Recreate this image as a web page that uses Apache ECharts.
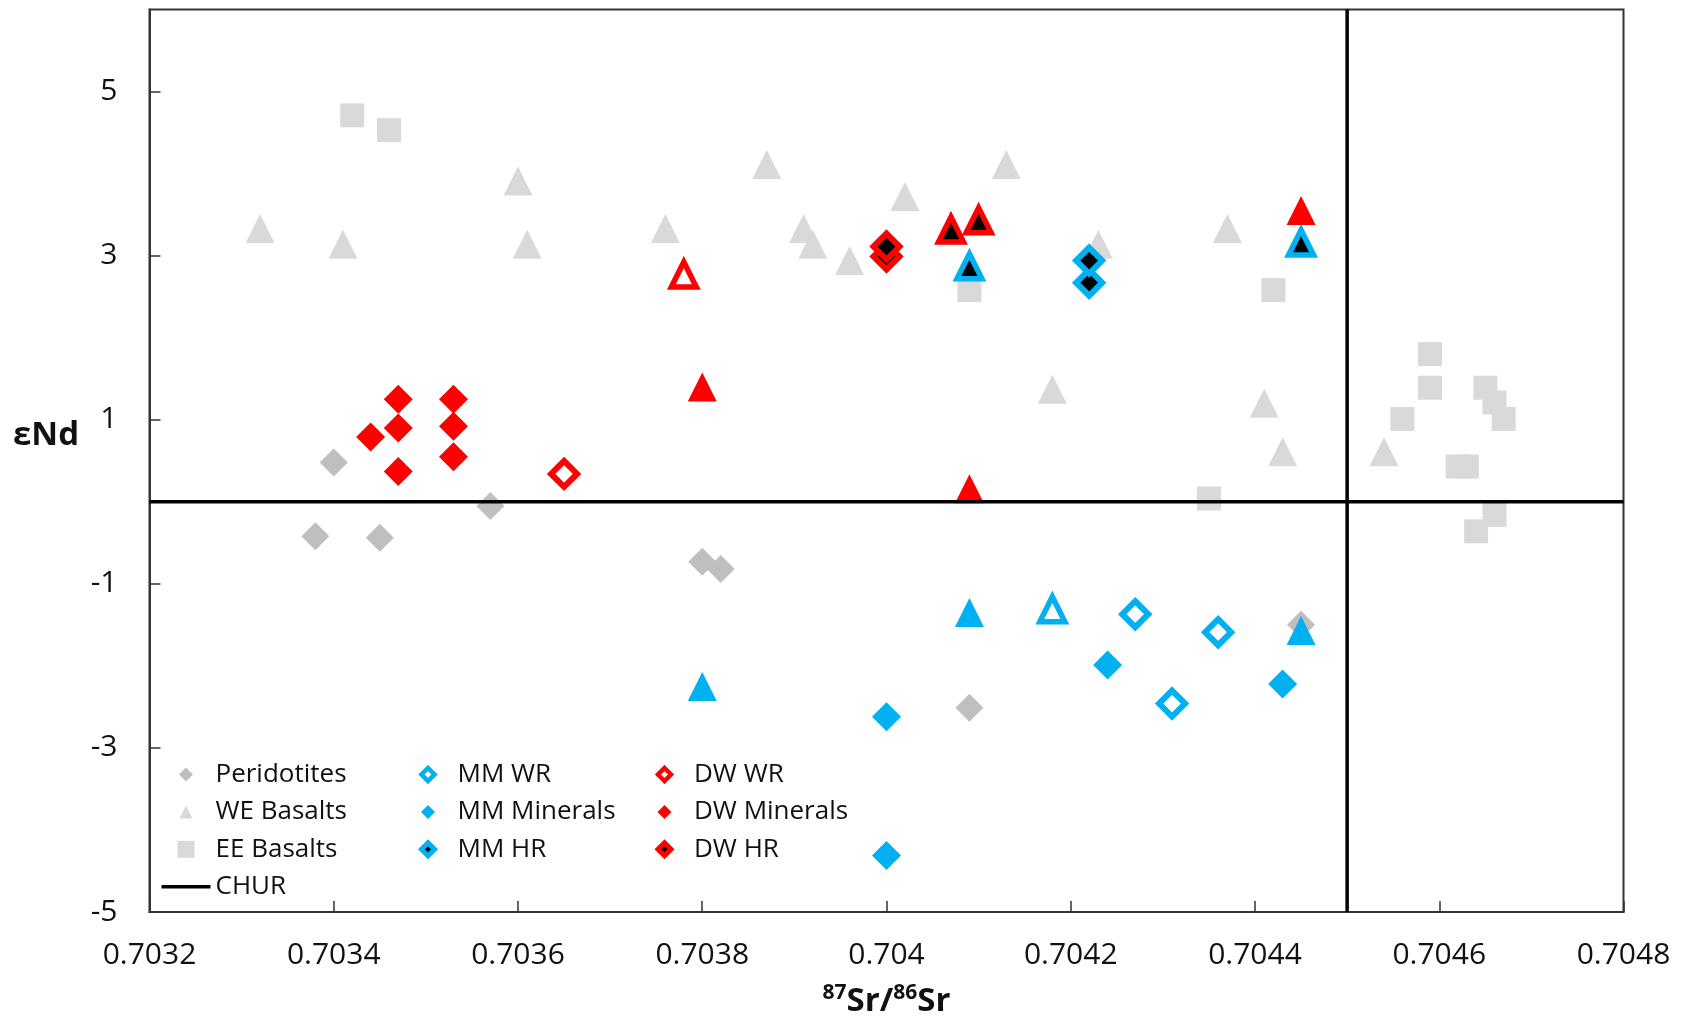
<!DOCTYPE html>
<html>
<head>
<meta charset="utf-8">
<title>εNd vs 87Sr/86Sr</title>
<script src="https://cdn.jsdelivr.net/npm/echarts@6/dist/echarts.min.js"></script>
<style>
  html, body { margin: 0; padding: 0; background: #ffffff; }
  #chart { width: 1686px; height: 1019px; }
</style>
</head>
<body>
<div id="chart"></div>
<script>
// ---- data: [87Sr/86Sr, εNd] ----
const peridotites = [
  [0.70340, 0.48], [0.70357, -0.05], [0.70338, -0.42], [0.70345, -0.44],
  [0.70380, -0.73], [0.70382, -0.82], [0.70409, -2.51], [0.70445, -1.50]
];
const weBasalts = [
  [0.70332, 3.33], [0.70341, 3.14], [0.70360, 3.91], [0.70361, 3.14],
  [0.70376, 3.33], [0.70387, 4.11], [0.70391, 3.33], [0.70392, 3.14],
  [0.70396, 2.94], [0.70402, 3.72], [0.70413, 4.11], [0.70423, 3.14],
  [0.70437, 3.33], [0.70418, 1.37], [0.70441, 1.20], [0.70443, 0.61],
  [0.70454, 0.61]
];
const eeBasalts = [
  [0.70342, 4.71], [0.70346, 4.53], [0.70409, 2.58], [0.70442, 2.58],
  [0.70435, 0.04], [0.70459, 1.80], [0.70459, 1.39], [0.70465, 1.39],
  [0.70466, 1.21], [0.70467, 1.01], [0.70456, 1.01], [0.70462, 0.43],
  [0.70463, 0.43], [0.70466, -0.16], [0.70464, -0.36]
];
const mmWr = [[0.70427, -1.37], [0.70436, -1.59], [0.70431, -2.46]];
const mmWrTri = [[0.70418, -1.31]];
const mmMinerals = [[0.70424, -1.99], [0.70400, -2.62], [0.70400, -4.31], [0.70443, -2.22]];
const mmMineralsTri = [[0.70380, -2.25], [0.70409, -1.35], [0.70445, -1.57]];
const mmHr = [[0.70422, 2.67], [0.70422, 2.94]];
const mmHrTri = [[0.70409, 2.87], [0.70445, 3.16]];
const dwWr = [[0.70365, 0.34]];
const dwWrTri = [[0.70378, 2.77]];
const dwMinerals = [
  [0.70347, 1.25], [0.70353, 1.25], [0.70347, 0.90], [0.70353, 0.92],
  [0.70344, 0.79], [0.70347, 0.37], [0.70353, 0.55]
];
const dwMineralsTri = [[0.70380, 1.40], [0.70409, 0.16], [0.70445, 3.55]];
const dwHr = [[0.70400, 2.99], [0.70400, 3.11]];
const dwHrTri = [[0.70407, 3.32], [0.70410, 3.43]];

// CHUR reference values
const churEpsNd = 0;
const churSr = 0.7045;

// axis ranges
const xRange = { min: 0.7032, max: 0.7048, step: 0.0002 };
const yRange = { min: -5, max: 6, step: 2 };

// ---- styling ----
const FONT = '"Open Sans", "Noto Sans", sans-serif';
const TEXT = '#111111';
const GREY_DARK = '#BFBFBF';
const GREY_LIGHT = '#D9D9D9';
const CYAN = '#00B0F0';
const RED = '#FF0000';

function filled(name, data, symbol, size, color) {
  return {
    type: 'scatter', name, data, symbol, symbolSize: size,
    itemStyle: { color, opacity: 1 },
    emphasis: { disabled: true }
  };
}
function outlined(name, data, symbol, size, fill, stroke, width) {
  return {
    type: 'scatter', name, data, symbol, symbolSize: size,
    itemStyle: { color: fill, borderColor: stroke, borderWidth: width, borderJoin: 'miter', borderMiterLimit: 10, opacity: 1 },
    emphasis: { disabled: true }
  };
}
function churLine(data) {
  return {
    type: 'line', name: 'CHUR', data, symbol: 'none', silent: true,
    itemStyle: { color: '#000000' },
    lineStyle: { color: '#000000', width: 3.5 },
    emphasis: { disabled: true }
  };
}

// legend icons drawn inside a 20x20 box
const BOX = 'path://M0,0M20,20';
const ICON_DIAMOND = BOX + 'M10,3L17,10L10,17L3,10Z';
const ICON_DIAMOND_RING = BOX + 'M10,3.5L16.5,10L10,16.5L3.5,10Z';
const ICON_TRIANGLE = BOX + 'M10,3.5L16.5,16.5L3.5,16.5Z';
const ICON_SQUARE = BOX + 'M1.5,1.5L18.5,1.5L18.5,18.5L1.5,18.5Z';
const ICON_LINE = 'path://M0,0L49,0L49,3.5L0,3.5Z';

function legendBlock(left, items) {
  return {
    orient: 'vertical', left, top: 756.5,
    itemWidth: 49, itemHeight: 20, itemGap: 11.4,
    selectedMode: false,
    textStyle: { fontFamily: FONT, fontSize: 26, color: TEXT },
    data: items
  };
}

const chart = echarts.init(document.getElementById('chart'), null, { renderer: 'canvas' });

chart.setOption({
  animation: false,
  backgroundColor: '#ffffff',
  grid: {
    left: 149.5, right: 62.5, top: 9.5, bottom: 107,
    outerBoundsMode: 'none', containLabel: false,
    show: true, borderColor: '#333333', borderWidth: 2, backgroundColor: 'transparent'
  },
  xAxis: {
    type: 'value', min: xRange.min, max: xRange.max, interval: xRange.step,
    axisLine: { show: true, onZero: false, lineStyle: { color: '#333333', width: 2 } },
    axisTick: { show: true, inside: true, length: 11, lineStyle: { color: '#333333', width: 1.5 } },
    splitLine: { show: false },
    axisLabel: {
      margin: 28, fontFamily: FONT, fontSize: 30, color: TEXT,
      formatter: v => String(+v.toFixed(4))
    },
    name: '{sup|87}{main|Sr/}{sup|86}{main|Sr}',
    nameLocation: 'middle', nameGap: 71,
    nameTextStyle: {
      rich: {
        main: { fontFamily: FONT, fontSize: 33, fontWeight: 'bold', color: TEXT, lineHeight: 38 },
        sup: { fontFamily: FONT, fontSize: 21, fontWeight: 'bold', color: TEXT, lineHeight: 21, verticalAlign: 'top' }
      }
    }
  },
  yAxis: {
    type: 'value', min: yRange.min, max: yRange.max, interval: yRange.step,
    axisLine: { show: true, onZero: false, lineStyle: { color: '#333333', width: 2 } },
    axisTick: { show: true, inside: true, length: 11, lineStyle: { color: '#333333', width: 1.5 } },
    splitLine: { show: false },
    axisLabel: {
      margin: 32, fontFamily: FONT, fontSize: 30, color: TEXT,
      showMaxLabel: false
    }
  },
  graphic: [{
    type: 'text', left: 13, top: 419,
    style: { text: 'εNd', font: 'bold 33px "Open Sans", "Noto Sans", sans-serif', fill: TEXT }
  }],
  legend: [
    legendBlock(156.5, [
      { name: 'Peridotites', icon: ICON_DIAMOND, itemStyle: { color: GREY_DARK, borderWidth: 0 } },
      { name: 'WE Basalts', icon: ICON_TRIANGLE, itemStyle: { color: GREY_LIGHT, borderWidth: 0 } },
      { name: 'EE Basalts', icon: ICON_SQUARE, itemStyle: { color: GREY_LIGHT, borderWidth: 0 } },
      { name: 'CHUR', icon: ICON_LINE, itemStyle: { color: '#000000', borderWidth: 0 } }
    ]),
    legendBlock(410.5, [
      { name: 'MM WR', icon: ICON_DIAMOND_RING, itemStyle: { color: '#ffffff', borderColor: CYAN, borderWidth: 4.5, borderJoin: 'miter' } },
      { name: 'MM Minerals', icon: ICON_DIAMOND, itemStyle: { color: CYAN, borderWidth: 0 } },
      { name: 'MM HR', icon: ICON_DIAMOND_RING, itemStyle: { color: '#000000', borderColor: CYAN, borderWidth: 5, borderJoin: 'miter' } }
    ]),
    legendBlock(647, [
      { name: 'DW WR', icon: ICON_DIAMOND_RING, itemStyle: { color: '#ffffff', borderColor: RED, borderWidth: 4.5, borderJoin: 'miter' } },
      { name: 'DW Minerals', icon: ICON_DIAMOND, itemStyle: { color: RED, borderWidth: 0 } },
      { name: 'DW HR', icon: ICON_DIAMOND_RING, itemStyle: { color: '#000000', borderColor: RED, borderWidth: 5, borderJoin: 'miter' } }
    ])
  ],
  series: [
    // CHUR reference lines: εNd = 0 across the plot, 87Sr/86Sr = 0.7045 top to bottom
    churLine([[xRange.min, churEpsNd], [xRange.max, churEpsNd]]),
    churLine([[churSr, yRange.min], [churSr, yRange.max]]),

    filled('Peridotites', peridotites, 'diamond', 28, GREY_DARK),
    filled('WE Basalts', weBasalts, 'triangle', 29, GREY_LIGHT),
    filled('EE Basalts', eeBasalts, 'rect', 24, GREY_LIGHT),

    outlined('MM WR', mmWr, 'diamond', 26, '#ffffff', CYAN, 6),
    outlined('MM WR', mmWrTri, 'triangle', 25, '#ffffff', CYAN, 5.5),
    filled('MM Minerals', mmMinerals, 'diamond', 29, CYAN),
    filled('MM Minerals', mmMineralsTri, 'triangle', 29, CYAN),
    outlined('MM HR', mmHr, 'diamond', 26, '#000000', CYAN, 6),
    outlined('MM HR', mmHrTri, 'triangle', 25, '#000000', CYAN, 5.5),

    outlined('DW WR', dwWr, 'diamond', 26, '#ffffff', RED, 6),
    outlined('DW WR', dwWrTri, 'triangle', 25, '#ffffff', RED, 5.5),
    filled('DW Minerals', dwMinerals, 'diamond', 29, RED),
    filled('DW Minerals', dwMineralsTri, 'triangle', 29, RED),
    outlined('DW HR', dwHr, 'diamond', 26, '#000000', RED, 6),
    outlined('DW HR', dwHrTri, 'triangle', 25, '#000000', RED, 5.5)
  ]
});
</script>
</body>
</html>
